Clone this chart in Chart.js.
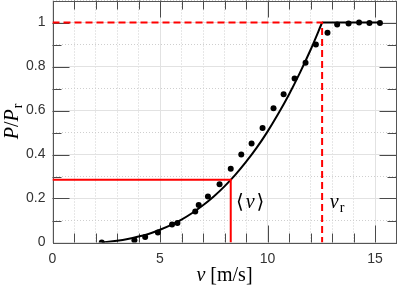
<!DOCTYPE html>
<html lang="en">
<head>
<meta charset="UTF-8">
<title>Power curve</title>
<script src="https://cdn.jsdelivr.net/npm/chart.js"></script>
<style>
  html, body { margin: 0; padding: 0; background: #fff; }
</style>
</head>
<body>
<canvas id="powerChart" width="399" height="288"></canvas>
<script>
// measured points: wind speed [m/s] and P/Pr
const measSpeed = [2.29, 3.81, 4.31, 4.90, 5.56, 5.81, 6.64, 6.80, 7.23, 7.77, 8.29, 8.78, 9.26, 9.77, 10.28, 10.75, 11.26, 11.77, 12.25, 12.79, 13.24, 13.77, 14.26, 14.74, 15.23];
const measPower = [0.0, 0.01, 0.025, 0.045, 0.082, 0.089, 0.141, 0.17, 0.209, 0.265, 0.335, 0.40, 0.45, 0.52, 0.61, 0.674, 0.745, 0.817, 0.90, 0.953, 0.991, 0.995, 1.0, 0.998, 0.998];
// model curve (ramp + plateau)
const rampSpeed = [2.29, 3, 3.5, 4, 4.5, 5, 5.5, 6, 6.5, 7, 7.5, 8, 8.5, 9, 9.5, 10, 10.5, 11, 11.5, 12, 12.54];
const rampPower = [0, 0.008, 0.016, 0.027, 0.040, 0.058, 0.079, 0.104, 0.134, 0.169, 0.209, 0.255, 0.307, 0.366, 0.431, 0.504, 0.585, 0.673, 0.770, 0.875, 1];
const plateauSpeed = [12.54, 15.23];
const plateauPower = [1, 1];
// mean and rated markers
const vMean = 8.29, pMean = 0.285;
const vRated = 12.54, pRated = 1;
const xTickLabels = [0, 5, 10, 15];
const yTickLabels = [0, 0.2, 0.4, 0.6, 0.8, 1];

const pts = (xs, ys) => xs.map((x, i) => ({ x: x, y: ys[i] }));

const serif = '"Liberation Serif", "DejaVu Serif", serif';

function drawParts(ctx, parts, x, y) {
    let cx = x;
    parts.forEach(p => {
        ctx.font = p.font;
        ctx.fillText(p.t, cx, y + (p.dy || 0));
        cx += ctx.measureText(p.t).width + (p.gap || 0);
    });
}
function partsWidth(ctx, parts) {
    let w = 0;
    parts.forEach(p => { ctx.font = p.font; w += ctx.measureText(p.t).width + (p.gap || 0); });
    return w;
}

const framePlugin = {
    id: 'frame',
    beforeDatasetsDraw(chart) {
        const ctx = chart.ctx, a = chart.chartArea;
        const xs = chart.scales.x, ys = chart.scales.y;
        ctx.save();
        ctx.strokeStyle = '#4a4a4a';
        ctx.lineWidth = 1;
        ctx.beginPath();
        for (let v = 1; v < 16; v++) {
            const px = Math.round(xs.getPixelForValue(v)) + 0.5;
            const len = v % 5 === 0 ? 17 : 9;
            ctx.moveTo(px, a.bottom); ctx.lineTo(px, a.bottom - len);
            ctx.moveTo(px, a.top); ctx.lineTo(px, a.top + len);
        }
        for (let k = 1; k < 11; k++) {
            const py = Math.round(ys.getPixelForValue(k / 10)) + 0.5;
            const len = k % 2 === 0 ? 17 : 9;
            ctx.moveTo(a.left, py); ctx.lineTo(a.left + len, py);
            ctx.moveTo(a.right, py); ctx.lineTo(a.right - len, py);
        }
        ctx.stroke();
        ctx.strokeStyle = '#555';
        ctx.strokeRect(Math.round(a.left) + 0.5, Math.round(a.top) + 0.5,
            Math.round(a.right - a.left) - 1, Math.round(a.bottom - a.top));
        ctx.restore();
    },
    afterDraw(chart) {
        const ctx = chart.ctx, a = chart.chartArea;
        const xs = chart.scales.x, ys = chart.scales.y;
        ctx.save();
        ctx.fillStyle = '#000';
        ctx.textBaseline = 'alphabetic';
        const up = '20px ' + serif, it = 'italic 20px ' + serif, sub = '14px ' + serif;

        // <v> label
        drawParts(ctx, [{ t: '\u27E8', font: up, gap: 2 }, { t: 'v', font: it, gap: 2 }, { t: '\u27E9', font: up }],
            xs.getPixelForValue(8.53), ys.getPixelForValue(0.157));
        // v_r label
        drawParts(ctx, [{ t: 'v', font: it, gap: 1 }, { t: 'r', font: sub, dy: 4 }],
            xs.getPixelForValue(12.9), ys.getPixelForValue(0.157));

        // x title
        const xt = [{ t: 'v', font: it, gap: 5 }, { t: '[m/s]', font: up }];
        const cx = (a.left + a.right) / 2;
        drawParts(ctx, xt, cx - partsWidth(ctx, xt) / 2, 281);

        // y title
        const yt = [{ t: 'P', font: it }, { t: '/', font: up }, { t: 'P', font: it, gap: 1 }, { t: 'r', font: sub, dy: 4 }];
        ctx.translate(17.5, (a.top + a.bottom) / 2);
        ctx.rotate(-Math.PI / 2);
        drawParts(ctx, yt, -partsWidth(ctx, yt) / 2, 0);
        ctx.restore();
    }
};

const tickFont = { family: '"Liberation Sans", Arial, sans-serif', size: 14 };

new Chart(document.getElementById('powerChart'), {
    type: 'scatter',
    data: {
        datasets: [
            {
                label: 'rated',
                data: [{ x: 0, y: pRated }, { x: vRated, y: pRated }, { x: vRated, y: 0 }],
                showLine: true, borderColor: '#ff0000', borderWidth: 2, borderDash: [7, 4],
                pointRadius: 0, tension: 0
            },
            {
                label: 'mean',
                data: [{ x: 0, y: pMean }, { x: vMean, y: pMean }, { x: vMean, y: 0 }],
                showLine: true, borderColor: '#ff0000', borderWidth: 2,
                pointRadius: 0, tension: 0
            },
            {
                label: 'ramp',
                data: pts(rampSpeed, rampPower),
                showLine: true, borderColor: '#000', borderWidth: 2,
                pointRadius: 0, cubicInterpolationMode: 'monotone'
            },
            {
                label: 'plateau',
                data: pts(plateauSpeed, plateauPower),
                showLine: true, borderColor: '#000', borderWidth: 2,
                pointRadius: 0, tension: 0
            },
            {
                label: 'measured',
                data: pts(measSpeed, measPower),
                showLine: false, pointRadius: 3, pointBackgroundColor: '#000',
                pointBorderColor: '#000', pointBorderWidth: 0
            }
        ]
    },
    options: {
        responsive: false,
        animation: false,
        layout: { autoPadding: false, padding: { top: 0.5, right: 2.5, left: 0, bottom: 0 } },
        plugins: { legend: { display: false }, tooltip: { enabled: false } },
        scales: {
            x: {
                type: 'linear', min: 0, max: 16,
                afterFit: s => { s.height = 45.5; s.paddingLeft = 0; s.paddingRight = 0; },
                ticks: {
                    stepSize: 1, autoSkip: false, maxRotation: 0, padding: 8,
                    color: '#333', font: tickFont,
                    callback: v => xTickLabels.includes(v) ? String(v) : ''
                },
                grid: {
                    drawTicks: false, lineWidth: 1,
                    color: c => (c.tick && c.tick.value % 5 === 0) ? '#e2e2e2' : '#cfcfcf'
                },
                border: {
                    display: false,
                    dash: c => (c.tick && c.tick.value % 5 !== 0) ? [1, 2] : []
                }
            },
            y: {
                type: 'linear', min: 0, max: 1.1,
                afterFit: s => { s.width = 52.5; s.paddingTop = 0; s.paddingBottom = 0; },
                ticks: {
                    stepSize: 0.1, autoSkip: false, padding: 7,
                    color: '#333', font: tickFont,
                    callback: v => {
                        const r = Math.round(v * 10) / 10;
                        return yTickLabels.includes(r) ? String(r) : '';
                    }
                },
                grid: {
                    drawTicks: false, lineWidth: 1,
                    color: c => (c.tick && Math.round(c.tick.value * 10) % 2 === 0) ? '#e2e2e2' : '#cfcfcf'
                },
                border: {
                    display: false,
                    dash: c => (c.tick && Math.round(c.tick.value * 10) % 2 !== 0) ? [1, 2] : []
                }
            }
        }
    },
    plugins: [framePlugin]
});
</script>
</body>
</html>
